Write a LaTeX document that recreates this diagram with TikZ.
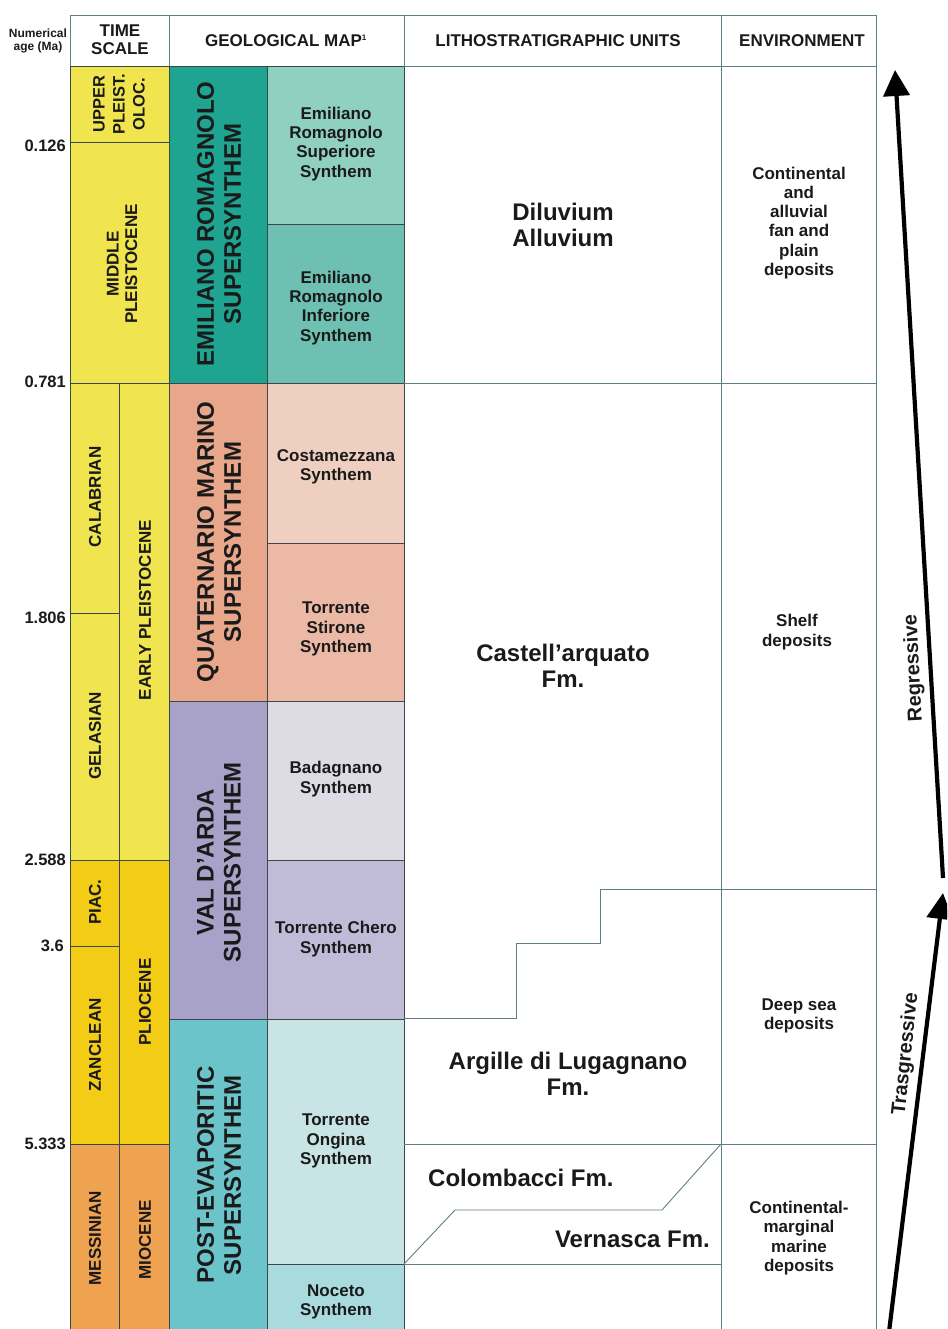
\documentclass[tikz,border=0pt]{standalone}
\usepackage{fontspec}
\setmainfont{Liberation Sans}
\usetikzlibrary{arrows.meta}
\definecolor{ylight}{HTML}{F1E54F}
\definecolor{ydark}{HTML}{F3CC15}
\definecolor{orng}{HTML}{EFA24F}
\definecolor{tealdark}{HTML}{1EA491}
\definecolor{tealsup}{HTML}{8FD0C1}
\definecolor{tealinf}{HTML}{6EC1B2}
\definecolor{salmon}{HTML}{E8A68B}
\definecolor{costam}{HTML}{EECFC0}
\definecolor{stirone}{HTML}{EBB9A6}
\definecolor{lavender}{HTML}{A8A1C8}
\definecolor{badag}{HTML}{DDDBE4}
\definecolor{chero}{HTML}{C0BCD7}
\definecolor{cyanc}{HTML}{6CC4CB}
\definecolor{ongina}{HTML}{C8E4E4}
\definecolor{noceto}{HTML}{A9DADE}
\definecolor{slate}{HTML}{5F7E87}
\definecolor{darkline}{HTML}{3A4849}
\definecolor{ink}{HTML}{1A1A1A}
\tikzset{
  cell/.style={draw=darkline, line width=0.9pt},
  wcell/.style={draw=slate, line width=0.9pt},
  thin/.style={draw=slate, line width=0.9pt},
  hdr/.style={text=ink, font=\bfseries\fontsize{17}{18}\selectfont, align=center, inner sep=0pt},
  age/.style={text=ink, font=\bfseries\fontsize{16.5}{18}\selectfont, anchor=east, inner sep=0pt},
  tsl/.style={text=ink, font=\bfseries\fontsize{17}{18.5}\selectfont, align=center, inner sep=0pt, rotate=90},
  sup/.style={text=ink, font=\bfseries\fontsize{24}{27}\selectfont, align=center, inner sep=0pt, rotate=90},
  syn/.style={text=ink, font=\bfseries\fontsize{17}{19.2}\selectfont, align=center, inner sep=0pt},
  lith/.style={text=ink, font=\bfseries\fontsize{24}{26.5}\selectfont, align=center, inner sep=0pt},
  env/.style={text=ink, font=\bfseries\fontsize{17}{19.2}\selectfont, align=center, inner sep=0pt},
  trend/.style={text=ink, font=\bfseries\fontsize{20}{22}\selectfont, inner sep=0pt},
  bigarrow/.style={line width=4.2pt, -{Triangle[length=26pt,width=26pt]}},
}
\begin{document}
\begin{tikzpicture}[x=1pt,y=-1pt]
\useasboundingbox (0,0) rectangle (947,1329);
\clip (0,0) rectangle (947,1329);

% header
\draw[wcell] (70,15) rectangle (169,66);
\draw[wcell] (169,15) rectangle (404,66);
\draw[wcell] (404,15) rectangle (721,66);
\draw[wcell] (721,15) rectangle (876,66);
\node[text=ink, font=\bfseries\fontsize{12}{13}\selectfont, align=center, inner sep=0pt] (numage) at (38,41) {Numerical\\age (Ma)};
\node[hdr] (hts) at (120,40) {TIME\\SCALE};
\node[hdr] (hgm) at (286,41) {GEOLOGICAL MAP\textsuperscript{\fontsize{8}{8}\selectfont 1}};
\node[hdr] (hlu) at (558,41) {LITHOSTRATIGRAPHIC UNITS};
\node[hdr] (hen) at (802,41) {ENVIRONMENT};

% time scale
\filldraw[cell, fill=ylight] (70,66) rectangle (169,142);
\filldraw[cell, fill=ylight] (70,142) rectangle (169,383);
\filldraw[cell, fill=ylight] (70,383) rectangle (119,613);
\filldraw[cell, fill=ylight] (70,613) rectangle (119,860);
\filldraw[cell, fill=ydark] (70,860) rectangle (119,946);
\filldraw[cell, fill=ydark] (70,946) rectangle (119,1144);
\filldraw[cell, fill=orng] (70,1144) rectangle (119,1340);
\filldraw[cell, fill=ylight] (119,383) rectangle (169,860);
\filldraw[cell, fill=ydark] (119,860) rectangle (169,1144);
\filldraw[cell, fill=orng] (119,1144) rectangle (169,1340);

\node[tsl, font=\bfseries\fontsize{16.5}{20}\selectfont] (upper) at (119,104) {UPPER\\PLEIST.\\OLOC.};
\node[tsl] (middle) at (122,264) {MIDDLE\\PLEISTOCENE};
\node[tsl] (calab) at (95,497) {CALABRIAN};
\node[tsl] (gelas) at (95,736) {GELASIAN};
\node[tsl] (piac) at (95,902) {PIAC.};
\node[tsl] (zancl) at (95,1045) {ZANCLEAN};
\node[tsl] (messi) at (95,1238) {MESSINIAN};
\node[tsl] (early) at (145,610) {EARLY PLEISTOCENE};
\node[tsl] (plio) at (145,1002) {PLIOCENE};
\node[tsl] (mio) at (145,1240) {MIOCENE};

% ages
\node[age] (a1) at (66,146) {0.126};
\node[age] (a2) at (66,382) {0.781};
\node[age] (a3) at (66,618) {1.806};
\node[age] (a4) at (66,860) {2.588};
\node[age] (a5) at (64,946) {3.6};
\node[age] (a6) at (66,1144) {5.333};

% supersynthems
\filldraw[cell, fill=tealdark] (169,66) rectangle (267,383);
\filldraw[cell, fill=salmon] (169,383) rectangle (267,701);
\filldraw[cell, fill=lavender] (169,701) rectangle (267,1019);
\filldraw[cell, fill=cyanc] (169,1019) rectangle (267,1340);
\node[sup] (ss1) at (219,224) {EMILIANO ROMAGNOLO\\SUPERSYNTHEM};
\node[sup] (ss2) at (219,542) {QUATERNARIO MARINO\\SUPERSYNTHEM};
\node[sup] (ss3) at (219,862) {VAL D'ARDA\\SUPERSYNTHEM};
\node[sup] (ss4) at (219,1175) {POST-EVAPORITIC\\SUPERSYNTHEM};

% synthems
\filldraw[cell, fill=tealsup] (267,66) rectangle (404,224);
\filldraw[cell, fill=tealinf] (267,224) rectangle (404,383);
\filldraw[cell, fill=costam] (267,383) rectangle (404,543);
\filldraw[cell, fill=stirone] (267,543) rectangle (404,701);
\filldraw[cell, fill=badag] (267,701) rectangle (404,860);
\filldraw[cell, fill=chero] (267,860) rectangle (404,1019);
\filldraw[cell, fill=ongina] (267,1019) rectangle (404,1264);
\filldraw[cell, fill=noceto] (267,1264) rectangle (404,1340);
\node[syn] (sy1) at (336,144) {Emiliano\\Romagnolo\\Superiore\\Synthem};
\node[syn] (sy2) at (336,308) {Emiliano\\Romagnolo\\Inferiore\\Synthem};
\node[syn] (sy3) at (336,467) {Costamezzana\\Synthem};
\node[syn] (sy4) at (336,629) {Torrente\\Stirone\\Synthem};
\node[syn] (sy5) at (336,779) {Badagnano\\Synthem};
\node[syn] (sy6) at (336,939) {Torrente Chero\\Synthem};
\node[syn] (sy7) at (336,1141) {Torrente\\Ongina\\Synthem};
\node[syn] (sy8) at (336,1302) {Noceto\\Synthem};

% lithostratigraphic + environment frame
\draw[thin] (404,66) -- (876,66);
\draw[thin] (721,66) -- (721,1340);
\draw[thin] (876,66) -- (876,1340);
\draw[thin] (404,383) -- (876,383);
\draw[thin] (721,889) -- (600,889) -- (600,943) -- (516,943) -- (516,1018) -- (404,1018);
\draw[thin] (721,889) -- (876,889);
\draw[thin] (404,1144) -- (876,1144);
\draw[thin] (721,1144) -- (662,1210) -- (455,1210) -- (404,1264);
\draw[thin] (404,1264) -- (721,1264);

\node[lith] (dil) at (563,225) {Diluvium\\Alluvium};
\node[lith] (cas) at (563,666) {Castell'arquato\\Fm.};
\node[lith] (arg) at (568,1074) {Argille di Lugagnano\\Fm.};
\node[lith, anchor=west] (col) at (428,1178) {Colombacci Fm.};
\node[lith, anchor=east] (ver) at (710,1239) {Vernasca Fm.};

\node[env] (e1) at (799,223) {Continental\\and\\alluvial\\fan and\\plain\\deposits};
\node[env] (e2) at (797,632) {Shelf\\deposits};
\node[env] (e3) at (799,1016) {Deep sea\\deposits};
\node[env] (e4) at (799,1238) {Continental-\\marginal\\marine\\deposits};

% arrows
\coordinate (rb) at (943,878);
\coordinate (rt) at (895,70);
\coordinate (tb) at (888,1340);
\coordinate (tt) at (943,893);
\draw[bigarrow] (rb) -- (rt);
\draw[bigarrow] (tb) -- (tt);
\node[trend, rotate=93] (reg) at (914,668) {Regressive};
\node[trend, rotate=84] (tra) at (906,1054) {Trasgressive};
\end{tikzpicture}
\end{document}
